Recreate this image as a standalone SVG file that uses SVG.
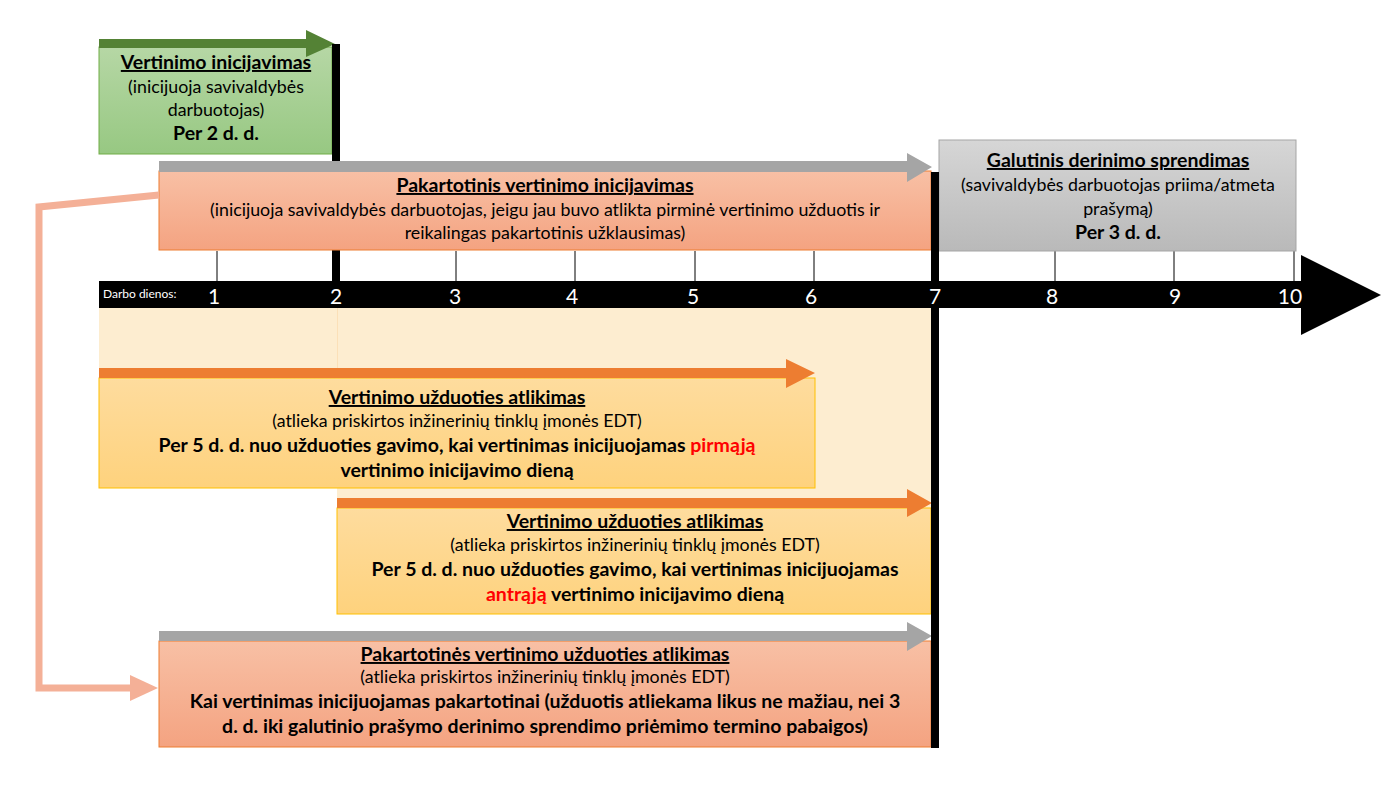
<svg xmlns="http://www.w3.org/2000/svg" width="1398" height="799" viewBox="0 0 1398 799">
<defs>
<linearGradient id="gGreen" x1="0" y1="0" x2="0" y2="1"><stop offset="0" stop-color="#b6d7a5"/><stop offset="1" stop-color="#97c882"/></linearGradient>
<linearGradient id="gSalmon" x1="0" y1="0" x2="0" y2="1"><stop offset="0" stop-color="#f8c0a5"/><stop offset="1" stop-color="#f4a381"/></linearGradient>
<linearGradient id="gGray" x1="0" y1="0" x2="0" y2="1"><stop offset="0" stop-color="#d6d6d6"/><stop offset="1" stop-color="#b9b9b9"/></linearGradient>
<linearGradient id="gYellow" x1="0" y1="0" x2="0" y2="1"><stop offset="0" stop-color="#fedc9e"/><stop offset="1" stop-color="#fed27d"/></linearGradient>
<style>
text{font-family:Lato,"Open Sans","Liberation Sans",sans-serif;fill:#000;text-anchor:middle}
.t{font-size:19.5px;font-weight:bold;text-decoration:underline}
.s{font-size:17.8px}
.b{font-size:19.5px;font-weight:bold}
.n{font-size:21px;fill:#fff}
.red{fill:#ff0000}
.tick{stroke:#000;stroke-width:1}
</style>
</defs>
<rect width="1398" height="799" fill="#fff"/>
<g id="background">
<rect x="99" y="308" width="238" height="180" fill="#fdedd0"/>
<rect x="337" y="308" width="594" height="306" fill="#fdedd0"/>
<line x1="337.5" y1="308" x2="337.5" y2="372" stroke="#fbe0b8" stroke-width="1"/>
</g>
<g id="axis">
<line class="tick" x1="217" y1="251" x2="217" y2="281"/>
<line class="tick" x1="456" y1="251" x2="456" y2="281"/>
<line class="tick" x1="575" y1="251" x2="575" y2="281"/>
<line class="tick" x1="695" y1="251" x2="695" y2="281"/>
<line class="tick" x1="814" y1="251" x2="814" y2="281"/>
<line class="tick" x1="1055" y1="251" x2="1055" y2="281"/>
<line class="tick" x1="1174" y1="251" x2="1174" y2="281"/>
<line class="tick" x1="1294" y1="251" x2="1294" y2="281"/>
<polygon points="99,281 1301,281 1301,255 1381,295 1301,335 1301,308 99,308" fill="#000"/>
</g>
<g id="node-green">
<rect x="99" y="47" width="233" height="107" fill="url(#gGreen)" stroke="#70ad47" stroke-width="1"/>
<polygon points="99,39 306,39 306,30 335,44 306,57 306,48 99,48" fill="#548235"/>
<text class="t" x="216" y="69">Vertinimo inicijavimas</text>
<text class="s" x="216" y="93">(inicijuoja savivaldybės</text>
<text class="s" x="216" y="116">darbuotojas)</text>
<text class="b" x="216" y="140">Per 2 d. d.</text>
</g>
<g id="marker-day2">
<rect x="332" y="44" width="8" height="238" fill="#000"/>
</g>
<g id="node-pakartotinis">
<rect x="159" y="171" width="772" height="79" fill="url(#gSalmon)" stroke="#ed7d31" stroke-width="1"/>
<polygon points="159,161 907,161 907,153 932,167 907,182 907,172 159,172" fill="#a5a5a5"/>
<text class="t" x="545" y="192">Pakartotinis vertinimo inicijavimas</text>
<text class="s" x="545" y="216">(inicijuoja savivaldybės darbuotojas, jeigu jau buvo atlikta pirminė vertinimo užduotis ir</text>
<text class="s" x="545" y="239">reikalingas pakartotinis užklausimas)</text>
</g>
<g id="node-galutinis">
<rect x="939" y="140" width="357" height="111" fill="url(#gGray)" stroke="#a5a5a5" stroke-width="1"/>
<text class="t" x="1118" y="167">Galutinis derinimo sprendimas</text>
<text class="s" x="1118" y="191">(savivaldybės darbuotojas priima/atmeta</text>
<text class="s" x="1118" y="215">prašymą)</text>
<text class="b" x="1118" y="239">Per 3 d. d.</text>
</g>
<g id="node-atlikimas1">
<rect x="99" y="378" width="716" height="110" fill="url(#gYellow)" stroke="#ffc000" stroke-width="1"/>
<polygon points="99,368 786,368 786,359 815,373 786,388 786,378 99,378" fill="#ed7d31"/>
<text class="t" x="457" y="404">Vertinimo užduoties atlikimas</text>
<text class="s" x="457" y="427">(atlieka priskirtos inžinerinių tinklų įmonės EDT)</text>
<text class="b" x="457" y="452">Per 5 d. d. nuo užduoties gavimo, kai vertinimas inicijuojamas <tspan class="red">pirmąją</tspan></text>
<text class="b" x="457" y="477">vertinimo inicijavimo dieną</text>
</g>
<g id="node-atlikimas2">
<rect x="337" y="508" width="594" height="106" fill="url(#gYellow)" stroke="#ffc000" stroke-width="1"/>
<polygon points="337,498 907,498 907,489 932,503 907,517 907,508 337,508" fill="#ed7d31"/>
<text class="t" x="635" y="528">Vertinimo užduoties atlikimas</text>
<text class="s" x="635" y="551">(atlieka priskirtos inžinerinių tinklų įmonės EDT)</text>
<text class="b" x="635" y="576">Per 5 d. d. nuo užduoties gavimo, kai vertinimas inicijuojamas</text>
<text class="b" x="635" y="601"><tspan class="red">antrąją</tspan> vertinimo inicijavimo dieną</text>
</g>
<g id="node-pakartotines">
<rect x="159" y="641" width="772" height="106" fill="url(#gSalmon)" stroke="#ed7d31" stroke-width="1"/>
<polygon points="159,631 907,631 907,622 932,636 907,651 907,641 159,641" fill="#a5a5a5"/>
<text class="t" x="545" y="661">Pakartotinės vertinimo užduoties atlikimas</text>
<text class="s" x="545" y="683">(atlieka priskirtos inžinerinių tinklų įmonės EDT)</text>
<text class="b" x="545" y="708">Kai vertinimas inicijuojamas pakartotinai (užduotis atliekama likus ne mažiau, nei 3</text>
<text class="b" x="545" y="733">d. d. iki galutinio prašymo derinimo sprendimo priėmimo termino pabaigos)</text>
</g>
<g id="marker-day7">
<rect x="931" y="172" width="8" height="576" fill="#000"/>
</g>
<g id="axis-labels">
<text x="103" y="298" style="font-size:12px;fill:#fff;text-anchor:start">Darbo dienos:</text>
<text class="n" x="214" y="304">1</text>
<text class="n" x="336" y="304">2</text>
<text class="n" x="455" y="304">3</text>
<text class="n" x="572" y="304">4</text>
<text class="n" x="693" y="304">5</text>
<text class="n" x="811" y="304">6</text>
<text class="n" x="935" y="304">7</text>
<text class="n" x="1052" y="304">8</text>
<text class="n" x="1175" y="304">9</text>
<text class="n" x="1290" y="304">10</text>
</g>
<g id="connectors">
<polyline points="159,195 39,207 39,688 132,688" fill="none" stroke="#f4b097" stroke-width="7"/>
<polygon points="130,675 158,688 130,701" fill="#f4b097"/>
</g>
</svg>
